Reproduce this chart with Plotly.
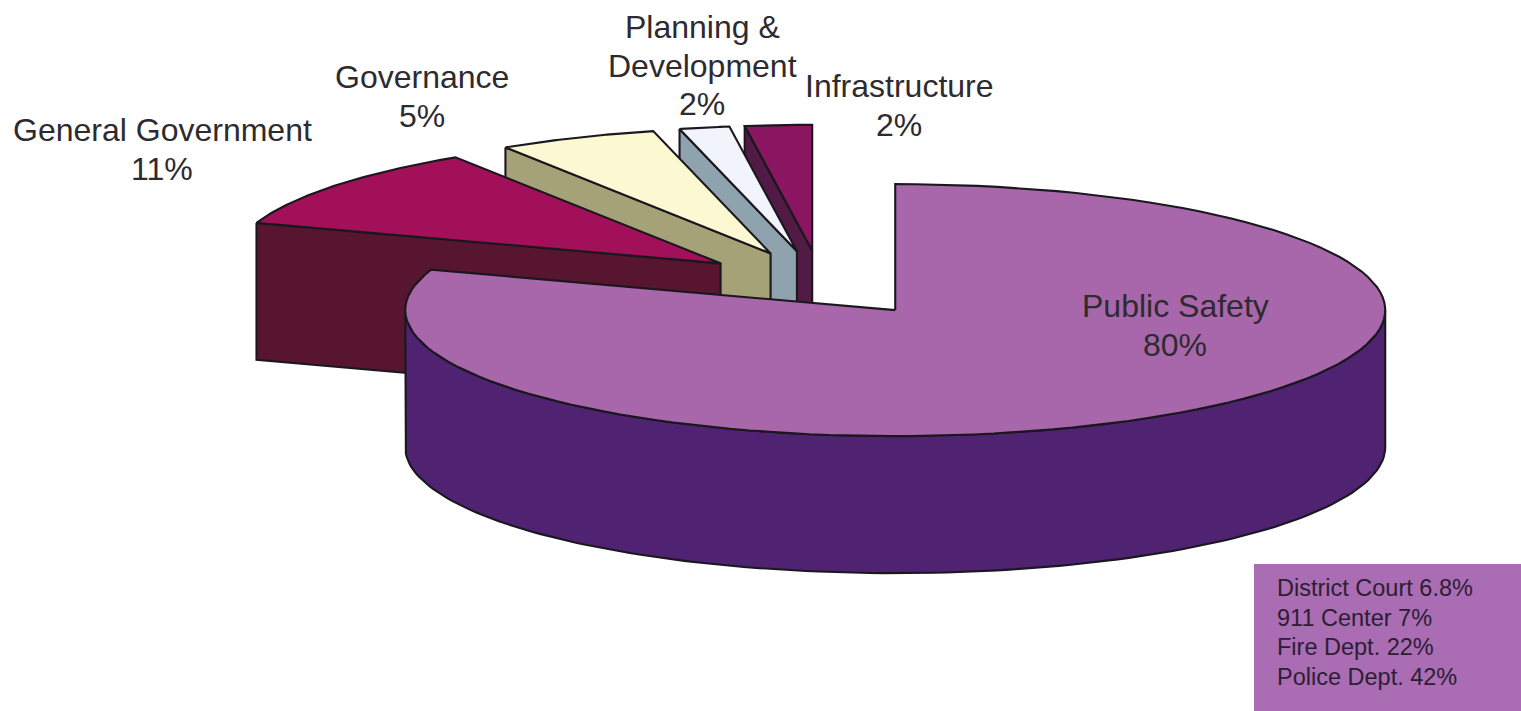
import math
import plotly.graph_objects as go

# ---- data ----
categories = ["Public Safety", "General Government", "Governance", "Planning &<br>Development", "Infrastructure"]
shares = [80.2, 10.7, 5.25, 1.65, 2.2]
share_labels = ["80%", "11%", "5%", "2%", "2%"]
breakdown_names = ["District Court", "911 Center", "Fire Dept.", "Police Dept."]
breakdown_labels = ["6.8%", "7%", "22%", "42%"]

# ---- styles ----
top_colors = ["#a866ab", "#a3105a", "#fbf8d2", "#f1f4fa", "#8a1560"]
side_colors = ["#502272", "#57152f", "#a5a278", "#8fa3ae", "#511b45"]
line_color = "#1a181e"
text_color = "#2e2b30"
font = "Liberation Sans, Arial, sans-serif"

# ---- projection of the tilted, exploded pie (pixels) ----
W, H = 1521, 711
CX, CY, RX, RY, DEPTH, EXPLODE = 821, 283.5, 490, 126, 137, 0.26
MAIN_SIZE, LINE_GAP = 32, 38.7


def project(deg, radius=1.0):
    a = math.radians(deg)
    return RX * radius * math.sin(a), -RY * radius * math.cos(a)


def arc(vx, vy, start, end, dy=0, n=120):
    pts = [project(start + (end - start) * i / n) for i in range(n + 1)]
    return [vx + p[0] for p in pts], [vy + p[1] + dy for p in pts]


fig = go.Figure()


def poly(xs, ys, color):
    fig.add_trace(go.Scatter(
        x=xs + xs[:1], y=ys + ys[:1], mode="lines", fill="toself", fillcolor=color,
        line=dict(color=line_color, width=2.1), hoverinfo="skip", showlegend=False))


# angles of each slice, clockwise from 12 o'clock
bounds = []
acc = 0.0
for s in shares:
    bounds.append((acc, acc + s * 3.6))
    acc += s * 3.6

# back-to-front drawing order
for i in [4, 3, 2, 1, 0]:
    start, end = bounds[i]
    ex, ey = project((start + end) / 2, EXPLODE)
    vx, vy = CX + ex, CY + ey
    ax, ay = arc(vx, vy, start, end)
    if i == 0:
        # outer wall of the large slice, right extreme to left extreme
        wx, wy = arc(vx, vy, 90, 270)
        bx, by = arc(vx, vy, 90, 270, DEPTH)
        poly(wx + bx[::-1], wy + by[::-1], side_colors[i])
    else:
        # cut face on the slice's left side
        poly([ax[0], vx, vx, ax[0]], [ay[0], vy, vy + DEPTH, ay[0] + DEPTH], side_colors[i])
    poly([vx] + ax, [vy] + ay, top_colors[i])

# explanatory box
fig.add_shape(type="rect", x0=1254, x1=W, y0=564, y1=H, fillcolor="#aa6cb3", line_width=0, layer="below")

label_top = [(1175, 306), (162, 130), (422, 77), (702, 27), (899, 86)]
for name, pct, (lx, ly) in zip(categories, share_labels, label_top):
    for j, line in enumerate(name.split("<br>") + [pct]):
        fig.add_annotation(x=lx, y=ly + j * LINE_GAP, text=line, showarrow=False, align="center",
                           xanchor="center", yanchor="middle",
                           font=dict(family=font, size=MAIN_SIZE, color=text_color))

for k, (n, p) in enumerate(zip(breakdown_names, breakdown_labels)):
    fig.add_annotation(x=1275, y=588 + 29.7 * k, text=f"{n} {p}", showarrow=False,
                       xanchor="left", yanchor="middle",
                       font=dict(family=font, size=23.5, color="#2b2033"))

fig.update_layout(
    width=W, height=H, margin=dict(l=0, r=0, t=0, b=0),
    paper_bgcolor="white", plot_bgcolor="white", showlegend=False,
    xaxis=dict(range=[0, W], visible=False, fixedrange=True),
    yaxis=dict(range=[H, 0], visible=False, fixedrange=True),
)
fig.write_html("out.html", config={"displayModeBar": False},
               post_script="document.body.style.margin='0';document.body.style.overflow='hidden';")
